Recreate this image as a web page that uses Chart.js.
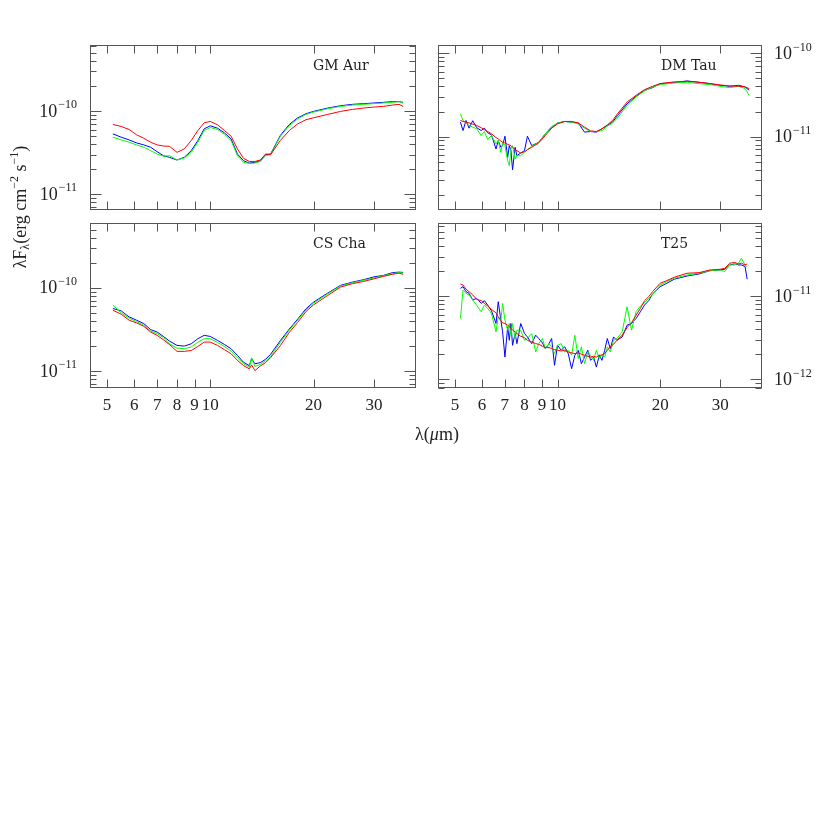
<!DOCTYPE html>
<html>
<head>
<meta charset="utf-8">
<script src="https://cdn.jsdelivr.net/npm/chart.js@4.4.1/dist/chart.umd.min.js"></script>
<style>
  html, body { margin: 0; padding: 0; background: #fff; }
  #wrap { position: relative; width: 830px; height: 830px; }
  #wrap canvas { position: absolute; left: 0; top: 0; }
</style>
</head>
<body>
<div id="wrap">
  <canvas id="gm" width="830" height="830"></canvas>
  <canvas id="dm" width="830" height="830"></canvas>
  <canvas id="cs" width="830" height="830"></canvas>
  <canvas id="t25" width="830" height="830"></canvas>
</div>
<script>
// wavelength ticks shared by all panels (micron)
const xTicks = [5, 6, 7, 8, 9, 10, 20, 30]

// GM Aur
const gmLam = [5.2, 5.5, 5.8, 6.1, 6.4, 6.7, 7.0, 7.3, 7.6, 8.0, 8.4, 8.8, 9.2, 9.6, 10.0, 10.5, 11, 11.5, 12, 12.5,
  13, 13.5, 14, 14.5, 15, 16, 17, 18, 19, 20, 22, 24, 26, 28, 30, 32, 34, 35.5, 36.5]
const gmRed = [6.90e-11, 6.53e-11, 6.00e-11, 5.18e-11, 4.71e-11, 4.22e-11, 3.92e-11, 3.80e-11, 3.77e-11, 3.19e-11,
  3.51e-11, 4.42e-11, 5.83e-11, 7.23e-11, 7.50e-11, 6.84e-11, 5.83e-11, 4.99e-11, 3.51e-11, 2.70e-11,
  2.48e-11, 2.48e-11, 2.58e-11, 3.05e-11, 2.99e-11, 4.42e-11, 5.83e-11, 7.03e-11, 7.86e-11, 8.30e-11,
  9.11e-11, 9.91e-11, 1.047e-10, 1.086e-10, 1.117e-10, 1.138e-10, 1.18e-10, 1.205e-10, 1.138e-10]
const gmBlue = [5.32e-11, 4.85e-11, 4.50e-11, 4.14e-11, 3.92e-11, 3.67e-11, 3.25e-11, 2.91e-11, 2.78e-11, 2.58e-11,
  2.78e-11, 3.34e-11, 4.42e-11, 6.11e-11, 6.65e-11, 6.22e-11, 5.47e-11, 4.62e-11, 3.05e-11, 2.53e-11,
  2.37e-11, 2.42e-11, 2.53e-11, 2.99e-11, 3.05e-11, 5.08e-11, 6.90e-11, 8.30e-11, 9.28e-11, 9.91e-11,
  1.086e-10, 1.159e-10, 1.205e-10, 1.227e-10, 1.250e-10, 1.273e-10, 1.297e-10, 1.297e-10, 1.273e-10]
const gmGreen = [4.85e-11, 4.50e-11, 4.22e-11, 3.92e-11, 3.67e-11, 3.34e-11, 3.05e-11, 2.86e-11, 2.91e-11, 2.58e-11,
  2.73e-11, 3.19e-11, 4.22e-11, 5.83e-11, 6.34e-11, 6.00e-11, 5.27e-11, 4.42e-11, 2.91e-11, 2.42e-11,
  2.35e-11, 2.37e-11, 2.48e-11, 2.91e-11, 2.99e-11, 4.95e-11, 6.71e-11, 8.07e-11, 9.11e-11, 9.72e-11,
  1.067e-10, 1.138e-10, 1.18e-10, 1.205e-10, 1.227e-10, 1.25e-10, 1.273e-10, 1.297e-10, 1.25e-10]

// DM Tau
const dmLam = [5.19, 5.28, 5.39, 5.50, 5.64, 5.79, 5.97, 6.10, 6.24, 6.40, 6.60, 6.70, 6.82, 6.90, 7.01, 7.14, 7.22,
  7.30, 7.38, 7.51, 7.60, 7.80, 8.00, 8.16, 8.40, 8.81, 9.21, 9.61, 10.0, 10.5, 11, 11.5, 12, 12.5, 13, 13.5, 14,
  14.5, 15, 16, 17, 18, 19, 20, 22, 24, 26, 28, 30, 32, 34, 35.5, 36.5]
const dmRed = [15.6e-12, 15.2e-12, 14.9e-12, 14.6e-12, 14.1e-12, 13.6e-12, 12.8e-12, 12.1e-12, 11.5e-12, 10.8e-12,
  9.72e-12, 9.36e-12, 8.85e-12, 8.53e-12, 8.38e-12, 8.07e-12, 7.92e-12, 7.78e-12, 7.43e-12, 6.96e-12,
  6.77e-12, 6.34e-12, 6.58e-12, 6.96e-12, 7.43e-12, 8.38e-12, 10.3e-12, 12.6e-12, 14.2e-12, 15.2e-12,
  15.2e-12, 14.6e-12, 13.0e-12, 11.7e-12, 11.5e-12, 12.4e-12, 13.8e-12, 15.6e-12, 18.8e-12, 26.0e-12,
  31.3e-12, 36.6e-12, 40.2e-12, 43.3e-12, 45.4e-12, 46.2e-12, 44.9e-12, 43.3e-12, 41.7e-12, 40.6e-12,
  40.2e-12, 39.5e-12, 37.7e-12]
const dmBlue = [14.9e-12, 11.8e-12, 15.6e-12, 12.6e-12, 15.5e-12, 12.8e-12, 11.8e-12, 12.6e-12, 11.1e-12, 10.5e-12,
  7.09e-12, 8.94e-12, 7.43e-12, 7.78e-12, 10.1e-12, 5.62e-12, 7.78e-12, 6.77e-12, 3.99e-12, 7.43e-12,
  5.89e-12, 6.34e-12, 6.77e-12, 10.1e-12, 7.78e-12, 8.53e-12, 10.8e-12, 12.8e-12, 14.5e-12, 15.2e-12,
  14.9e-12, 14.6e-12, 11.3e-12, 11.5e-12, 11.3e-12, 12.4e-12, 13.6e-12, 14.9e-12, 17.9e-12, 24.8e-12,
  30.4e-12, 36.0e-12, 38.7e-12, 43.3e-12, 44.5e-12, 46.6e-12, 44.9e-12, 43.3e-12, 41.3e-12, 40.2e-12,
  41.3e-12, 39.5e-12, 36.0e-12]
const dmGreen = [18.8e-12, 15.6e-12, 14.6e-12, 13.6e-12, 13.0e-12, 12.4e-12, 10.3e-12, 11.5e-12, 9.19e-12, 10.3e-12,
  8.15e-12, 8.94e-12, 6.46e-12, 8.53e-12, 7.78e-12, 5.12e-12, 4.46e-12, 7.09e-12, 7.78e-12, 5.37e-12,
  5.89e-12, 5.89e-12, 6.46e-12, 6.96e-12, 7.63e-12, 8.53e-12, 10.8e-12, 13.2e-12, 14.5e-12, 15.2e-12,
  14.9e-12, 14.2e-12, 12.6e-12, 11.5e-12, 11.5e-12, 11.8e-12, 13.3e-12, 14.5e-12, 16.8e-12, 23.7e-12,
  29.9e-12, 35.3e-12, 39.5e-12, 42.1e-12, 44.1e-12, 44.9e-12, 43.3e-12, 42.1e-12, 40.2e-12, 38.7e-12,
  40.2e-12, 37.7e-12, 31.3e-12]

// CS Cha
const csLam = [5.2, 5.5, 5.8, 6.1, 6.4, 6.7, 7.0, 7.3, 7.6, 8.0, 8.4, 8.8, 9.2, 9.6, 10.0, 10.5, 11, 11.5, 12, 12.5,
  13, 13.2, 13.5, 14, 14.5, 15, 16, 17, 18, 19, 20, 22, 24, 26, 28, 30, 32, 34, 35.5, 36.5]
const csRed = [5.37e-11, 4.81e-11, 4.07e-11, 3.78e-11, 3.44e-11, 2.94e-11, 2.68e-11, 2.37e-11, 2.08e-11, 1.72e-11,
  1.72e-11, 1.76e-11, 1.97e-11, 2.22e-11, 2.22e-11, 2.03e-11, 1.80e-11, 1.61e-11, 1.34e-11, 1.16e-11,
  1.06e-11, 1.18e-11, 1.01e-11, 1.15e-11, 1.26e-11, 1.45e-11, 2.01e-11, 2.91e-11, 3.84e-11, 5.17e-11,
  6.23e-11, 8.08e-11, 1.02e-10, 1.12e-10, 1.19e-10, 1.28e-10, 1.37e-10, 1.45e-10, 1.50e-10, 1.45e-10]
const csBlue = [5.63e-11, 5.27e-11, 4.46e-11, 4.07e-11, 3.71e-11, 3.14e-11, 2.94e-11, 2.60e-11, 2.29e-11, 2.03e-11,
  1.99e-11, 2.12e-11, 2.44e-11, 2.68e-11, 2.60e-11, 2.33e-11, 2.08e-11, 1.85e-11, 1.54e-11, 1.27e-11,
  1.16e-11, 1.40e-11, 1.22e-11, 1.26e-11, 1.38e-11, 1.59e-11, 2.31e-11, 3.19e-11, 4.22e-11, 5.57e-11,
  6.71e-11, 8.62e-11, 1.07e-10, 1.17e-10, 1.25e-10, 1.35e-10, 1.41e-10, 1.52e-10, 1.54e-10, 1.53e-10]
const csGreen = [6.17e-11, 4.99e-11, 4.30e-11, 3.92e-11, 3.54e-11, 3.02e-11, 2.81e-11, 2.51e-11, 2.12e-11, 1.88e-11,
  1.85e-11, 1.94e-11, 2.22e-11, 2.44e-11, 2.44e-11, 2.20e-11, 1.97e-11, 1.73e-11, 1.44e-11, 1.22e-11,
  1.11e-11, 1.44e-11, 1.13e-11, 1.20e-11, 1.32e-11, 1.50e-11, 2.20e-11, 3.11e-11, 4.10e-11, 5.42e-11,
  6.52e-11, 8.46e-11, 1.05e-10, 1.15e-10, 1.23e-10, 1.31e-10, 1.40e-10, 1.48e-10, 1.53e-10, 1.50e-10]

// T25
const t25Lam = [5.19, 5.28, 5.39, 5.50, 5.64, 5.79, 5.97, 6.10, 6.24, 6.40, 6.60, 6.70, 6.82, 6.90, 7.01, 7.14, 7.22,
  7.30, 7.38, 7.51, 7.60, 7.80, 8.00, 8.16, 8.40, 8.63, 8.81, 9.03, 9.21, 9.44, 9.61, 9.80, 10.0, 10.25, 10.5,
  10.75, 11.0, 11.24, 11.5, 11.75, 12.0, 12.27, 12.5, 12.76, 13.0, 13.26, 13.5, 13.75, 14.0, 14.28, 14.6, 14.93,
  15.48, 16, 16.48, 17, 17.5, 18, 18.51, 19, 20, 20.94, 22, 24, 26, 28, 30, 30.97, 32, 33.1, 34, 34.6, 35.5, 36.0]
const t25Red = [14.1e-12, 13.7e-12, 12.2e-12, 11.4e-12, 10.4e-12, 9.2e-12, 8.9e-12, 8.24e-12, 7.65e-12, 6.97e-12,
  6.35e-12, 5.68e-12, 5.09e-12, 4.81e-12, 4.72e-12, 4.51e-12, 4.30e-12, 4.11e-12, 3.92e-12, 3.74e-12,
  3.58e-12, 3.31e-12, 3.19e-12, 2.96e-12, 2.83e-12, 2.70e-12, 2.65e-12, 2.51e-12, 2.42e-12, 2.42e-12,
  2.35e-12, 2.29e-12, 2.25e-12, 2.20e-12, 2.25e-12, 2.14e-12, 2.09e-12, 2.05e-12, 2.09e-12, 2.01e-12,
  1.96e-12, 1.90e-12, 1.86e-12, 1.90e-12, 1.86e-12, 1.96e-12, 1.96e-12, 2.05e-12, 2.25e-12, 2.47e-12,
  2.65e-12, 2.96e-12,
  3.41e-12, 4.22e-12, 4.81e-12, 5.95e-12, 7.17e-12, 8.87e-12, 9.92e-12, 11.4e-12, 14.4e-12, 15.5e-12,
  17.0e-12, 19.0e-12, 19.3e-12, 20.8e-12, 21.2e-12, 21.8e-12, 25.1e-12, 25.6e-12, 24.6e-12, 25.1e-12,
  23.9e-12, 24.6e-12]
const t25Blue = [12.5e-12, 13.1e-12, 11.4e-12, 10.9e-12, 9.04e-12, 9.47e-12, 8.24e-12, 8.87e-12, 7.86e-12, 6.72e-12,
  4.72e-12, 8.63e-12, 5.18e-12, 3.74e-12, 1.86e-12, 4.30e-12, 2.96e-12, 4.72e-12, 2.58e-12, 3.58e-12,
  2.70e-12, 4.72e-12, 3.58e-12, 3.25e-12, 2.70e-12, 3.41e-12, 3.11e-12, 2.75e-12, 2.35e-12, 2.70e-12,
  3.11e-12, 1.48e-12, 2.58e-12, 2.25e-12, 2.47e-12, 2.05e-12, 1.35e-12, 1.96e-12, 2.25e-12, 1.55e-12,
  1.86e-12, 2.25e-12, 1.70e-12, 1.86e-12, 1.41e-12, 1.96e-12, 1.70e-12, 2.25e-12, 3.11e-12, 2.35e-12,
  3.25e-12, 2.96e-12,
  3.25e-12, 4.51e-12, 4.72e-12, 5.42e-12, 6.53e-12, 7.86e-12, 8.87e-12, 10.7e-12, 13.1e-12, 14.4e-12,
  16.1e-12, 17.6e-12, 18.6e-12, 20.4e-12, 20.8e-12, 21.2e-12, 23.9e-12, 24.6e-12, 23.9e-12, 23.9e-12,
  22.9e-12, 16.1e-12]
const t25Green = [5.42e-12, 11.9e-12, 10.9e-12, 10.4e-12, 9.04e-12, 7.86e-12, 6.53e-12, 7.86e-12, 7.17e-12, 6.23e-12,
  3.74e-12, 5.68e-12, 5.18e-12, 8.24e-12, 5.18e-12, 3.92e-12, 4.72e-12, 3.41e-12, 4.72e-12, 3.11e-12,
  3.92e-12, 3.92e-12, 2.96e-12, 3.11e-12, 3.58e-12, 2.14e-12, 2.70e-12, 3.11e-12, 2.35e-12, 2.70e-12,
  2.47e-12, 2.05e-12, 2.58e-12, 2.70e-12, 2.14e-12, 2.25e-12, 1.96e-12, 3.41e-12, 1.78e-12, 2.47e-12,
  1.55e-12, 2.14e-12, 1.96e-12, 1.70e-12, 2.25e-12, 1.78e-12, 2.01e-12, 1.86e-12, 2.47e-12, 2.14e-12,
  2.96e-12, 3.11e-12,
  3.74e-12, 7.51e-12, 3.92e-12, 6.53e-12, 7.65e-12, 8.4e-12, 9.47e-12, 10.4e-12, 13.7e-12, 15.1e-12,
  16.5e-12, 18.1e-12, 19.0e-12, 20.4e-12, 20.8e-12, 19.9e-12, 23.9e-12, 23.9e-12, 25.1e-12, 28.8e-12,
  23.9e-12, 22.9e-12]

const SERIF = '"Liberation Serif", "DejaVu Serif", serif'
const INK = '#222'

function series(lam, vals, color) {
  return {
    data: lam.map((x, i) => ({ x, y: vals[i] })),
    borderColor: color,
    borderWidth: 1,
    pointRadius: 0,
    tension: 0,
    fill: false
  }
}

// draws text pieces [text, size, dy, italic] one after the other
function drawPieces(ctx, pieces, cx, cy) {
  const font = (p) => (p[3] ? 'italic ' : '') + p[1] + 'px ' + SERIF
  let total = 0
  pieces.forEach(p => { ctx.font = font(p); total += ctx.measureText(p[0]).width })
  let x = cx - total / 2
  pieces.forEach(p => {
    ctx.font = font(p)
    ctx.fillText(p[0], x, cy + p[2])
    x += ctx.measureText(p[0]).width
  })
}

const panelDeco = {
  id: 'panelDeco',
  afterDatasetsDraw(chart, args, opts) {
    const { ctx, chartArea: a, scales } = chart
    const x = scales.x
    const y = scales.y
    const L = Math.round(a.left) + 0.5
    const R = Math.round(a.right) - 0.5
    const T = Math.round(a.top) + 0.5
    const B = Math.round(a.bottom) - 0.5

    ctx.save()
    ctx.strokeStyle = '#555'
    ctx.lineWidth = 1
    ctx.strokeRect(L, T, R - L, B - T)

    ctx.beginPath()
    xTicks.forEach(v => {
      const px = Math.round(x.getPixelForValue(v)) + 0.5
      ctx.moveTo(px, T)
      ctx.lineTo(px, T + 8)
      ctx.moveTo(px, B)
      ctx.lineTo(px, B - 8)
    })
    const lo = Math.floor(Math.log10(y.min))
    const hi = Math.ceil(Math.log10(y.max))
    for (let e = lo; e <= hi; e++) {
      for (let m = 1; m <= 9; m++) {
        const v = m * Math.pow(10, e)
        if (v < y.min || v > y.max) continue
        const py = Math.round(y.getPixelForValue(v)) + 0.5
        const len = m === 1 ? 11 : 6
        ctx.moveTo(L, py)
        ctx.lineTo(L + len, py)
        ctx.moveTo(R, py)
        ctx.lineTo(R - len, py)
      }
    }
    ctx.stroke()

    // y tick labels: 10 with a raised exponent
    ctx.fillStyle = INK
    ctx.textBaseline = 'middle'
    ctx.textAlign = 'left'
    opts.yExp.forEach(e => {
      const py = y.getPixelForValue(Math.pow(10, e))
      const base = '10'
      const sup = '\u2212' + Math.abs(e)
      ctx.font = '18px ' + SERIF
      const wb = ctx.measureText(base).width
      ctx.font = '12px ' + SERIF
      const ws = ctx.measureText(sup).width
      const x0 = opts.ySide === 'left' ? a.left - 13 - wb - ws - 1 : a.right + 12
      ctx.font = '18px ' + SERIF
      ctx.fillText(base, x0, py + 1)
      ctx.font = '12px ' + SERIF
      ctx.fillText(sup, x0 + wb + 1, py - 6)
    })

    // panel name
    ctx.font = '14px "DejaVu Serif", serif'
    ctx.fillText(opts.label, a.left + 223, a.top + 21)

    // shared axis titles
    if (opts.titles) {
      ctx.save()
      ctx.translate(21, 207)
      ctx.rotate(-Math.PI / 2)
      drawPieces(ctx, [
        ['\u03bbF', 18, 0], ['\u03bb', 12, 5], ['(erg cm', 18, 0], ['\u22122', 12, -6],
        [' s', 18, 0], ['\u22121', 12, -6], [')', 18, 0]
      ], 0, 0)
      ctx.restore()
      drawPieces(ctx, [['\u03bb(', 18, 0], ['\u03bc', 18, 0, true], ['m)', 18, 0]], 437, 435)
    }
    ctx.restore()
  }
}

function makePanel(id, lam, red, blue, green, yMin, yMax, deco) {
  const showX = deco.xLabels
  return new Chart(document.getElementById(id), {
    type: 'line',
    data: {
      datasets: [series(lam, red, '#ff0000'), series(lam, green, '#00ff00'), series(lam, blue, '#0000ff')]
    },
    options: {
      responsive: false,
      animation: false,
      devicePixelRatio: 1,
      layout: { padding: deco.pad },
      scales: {
        x: {
          type: 'logarithmic',
          min: 4.46,
          max: 39.8,
          grid: { display: false, drawTicks: false },
          border: { display: false },
          afterBuildTicks: s => { s.ticks = xTicks.map(v => ({ value: v })) },
          afterFit: s => { s.height = showX ? 30 : 0 },
          ticks: {
            display: showX,
            autoSkip: false,
            maxRotation: 0,
            padding: 7,
            color: INK,
            font: { family: SERIF, size: 17 },
            callback: v => String(v)
          }
        },
        y: {
          type: 'logarithmic',
          position: deco.ySide,
          min: yMin,
          max: yMax,
          grid: { display: false, drawTicks: false },
          border: { display: false },
          ticks: { display: false },
          afterFit: s => { s.width = 50 }
        }
      },
      plugins: {
        legend: { display: false },
        tooltip: { enabled: false },
        panelDeco: deco
      }
    },
    plugins: [panelDeco]
  })
}

makePanel('gm', gmLam, gmRed, gmBlue, gmGreen, 6.47e-12, 6.22e-10, {
  label: 'GM Aur', ySide: 'left', yExp: [-11, -10], xLabels: false,
  pad: { left: 40, right: 414, top: 45, bottom: 620 }
})
makePanel('dm', dmLam, dmRed, dmBlue, dmGreen, 1.31e-12, 1.26e-10, {
  label: 'DM Tau', ySide: 'right', yExp: [-11, -10], xLabels: false,
  pad: { left: 438, right: 18, top: 45, bottom: 620 }
})
makePanel('cs', csLam, csRed, csBlue, csGreen, 6.24e-12, 6.0e-10, {
  label: 'CS Cha', ySide: 'left', yExp: [-11, -10], xLabels: true, titles: true,
  pad: { left: 40, right: 414, top: 223, bottom: 412 }
})
makePanel('t25', t25Lam, t25Red, t25Blue, t25Green, 7.9e-13, 7.64e-11, {
  label: 'T25', ySide: 'right', yExp: [-12, -11], xLabels: true,
  pad: { left: 438, right: 18, top: 223, bottom: 412 }
})
</script>
</body>
</html>
